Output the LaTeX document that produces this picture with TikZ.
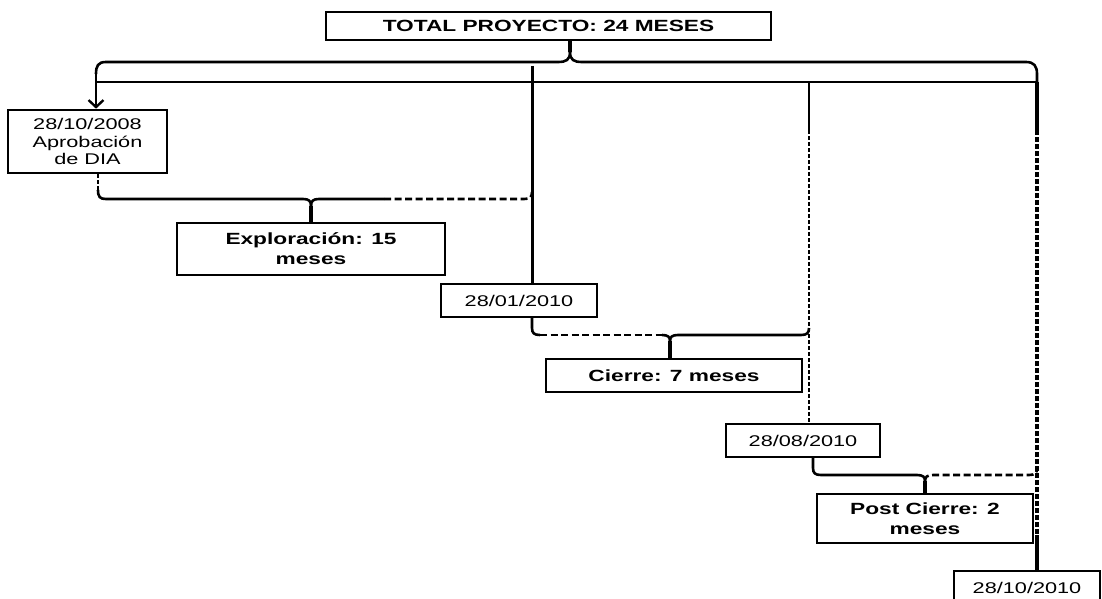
\documentclass[tikz,border=0pt]{standalone}
\usepackage{fontspec}
\setmainfont{Liberation Sans}[FakeStretch=1.4]
\usetikzlibrary{arrows.meta}
\begin{document}
\begin{tikzpicture}[x=1pt,y=-1pt,
  box/.style={draw, line width=2.6pt, inner sep=0pt, align=center},
  datefont/.style={font=\fontsize{15.5}{17.5}\selectfont},
  phasefont/.style={font=\fontsize{16.2}{20}\selectfont\bfseries},
  ln/.style={line width=2.6pt},
  hdash/.style={line width=2.6pt, dash pattern=on 7pt off 3.5pt},
  vdash/.style={line width=2.8pt, dash pattern=on 4pt off 2pt},
  vdashthick/.style={line width=4.5pt, dash pattern=on 5pt off 2pt},
  tip/.style={line width=3.5pt}]
\useasboundingbox (0,0) rectangle (1102,599);
\fill[white] (0,0) rectangle (1102,599);
% boxes
\node[box, phasefont, minimum width=445pt, minimum height=28pt] (top) at (548.5,26) {TOTAL PROYECTO: 24 MESES};
\node[box, datefont, minimum width=159pt, minimum height=63pt] (dia) at (87.5,141.5) {28/10/2008\\Aprobación\\de DIA};
\node[box, phasefont, minimum width=268pt, minimum height=52pt] (expl) at (311,249) {Exploración: 15\\meses};
\node[box, datefont, minimum width=156pt, minimum height=33pt] (d1) at (519,300.5) {28/01/2010};
\node[box, phasefont, minimum width=256pt, minimum height=33pt] (cierre) at (674,375.5) {Cierre: 7 meses};
\node[box, datefont, minimum width=154pt, minimum height=33pt] (d2) at (803,440.5) {28/08/2010};
\node[box, phasefont, minimum width=216pt, minimum height=49pt] (post) at (925,518.5) {Post Cierre: 2\\meses};
\node[box, datefont, minimum width=146pt, minimum height=33pt] (d3) at (1027,587.5) {28/10/2010};
% coordinates
\coordinate (tbtip) at (570,52);
\coordinate (h2l) at (96,82);
\coordinate (h2r) at (1037,82);
\coordinate (v1top) at (532,66);
\coordinate (v2top) at (809,82);
\coordinate (v2mid) at (809,130);
\coordinate (v3mid) at (1037,130);
\coordinate (v3low) at (1037,535);
\coordinate (ebtip) at (311,206);
\coordinate (ebsplit) at (384,199);
\coordinate (cbtip) at (670,341);
\coordinate (cbsplit) at (662,335);
\coordinate (pbtip) at (925,481);
% top brace
\draw[ln] (tbtip |- top.south) -- (tbtip) .. controls (570,60) and (566,62) .. (558,62) -- (106,62) .. controls (98,62) and (96,66) .. (96,74);
\draw[ln, -{Straight Barb[length=7pt,width=15pt,line width=2.4pt]}] (96,74) -- ([xshift=8.5pt]dia.north);
\draw[tip] (tbtip |- top.south) -- (tbtip);
\draw[ln] (tbtip) .. controls (570,60) and (574,62) .. (582,62) -- (1026,62) .. controls (1034,62) and (1037,66) .. (1037,74) -- (h2r);
% second horizontal line and verticals
\draw[ln] (h2l) -- (h2r);
\draw[line width=3pt] (v1top) -- (v1top |- d1.north);
\draw[ln] (v2top) -- (v2mid);
\draw[vdash] (v2mid) -- (v2mid |- d2.north);
\draw[line width=3.5pt] (h2r) -- (v3mid);
\draw[vdashthick] (v3mid) -- (v3low);
\draw[line width=3.5pt] (v3low) -- (v3low |- d3.north);
% Exploracion brace
\draw[vdash] ([xshift=10.5pt]dia.south) -- (98,190);
\draw[ln] (98,190) .. controls (98,197) and (100,199) .. (106,199) -- (303,199) .. controls (309,199) and (311,201) .. (ebtip);
\draw[tip] (ebtip) -- (ebtip |- expl.north);
\draw[ln] (ebtip) .. controls (311,201) and (313,199) .. (319,199) -- (ebsplit);
\draw[hdash] (ebsplit) -- (524,199) .. controls (530,199) and (532,197) .. (532,192);
% Cierre brace
\draw[ln] (532,317) -- (532,328) .. controls (532,333) and (534,335) .. (540,335);
\draw[hdash] (540,335) -- (cbsplit);
\draw[ln] (cbsplit) .. controls (668,335) and (670,337) .. (cbtip);
\draw[tip] (cbtip) -- (cbtip |- cierre.north);
\draw[ln] (cbtip) .. controls (670,337) and (672,335) .. (678,335) -- (801,335) .. controls (807,335) and (809,333) .. (809,328);
% Post Cierre brace
\draw[ln] (813,457) -- (813,468) .. controls (813,473) and (815,475) .. (821,475) -- (917,475) .. controls (923,475) and (925,477) .. (pbtip);
\draw[tip] (pbtip) -- (pbtip |- post.north);
\draw[hdash] (pbtip) .. controls (925,477) and (927,475) .. (933,475) -- (1029,475) .. controls (1035,475) and (1037,473) .. (1037,468);
\end{tikzpicture}
\end{document}
